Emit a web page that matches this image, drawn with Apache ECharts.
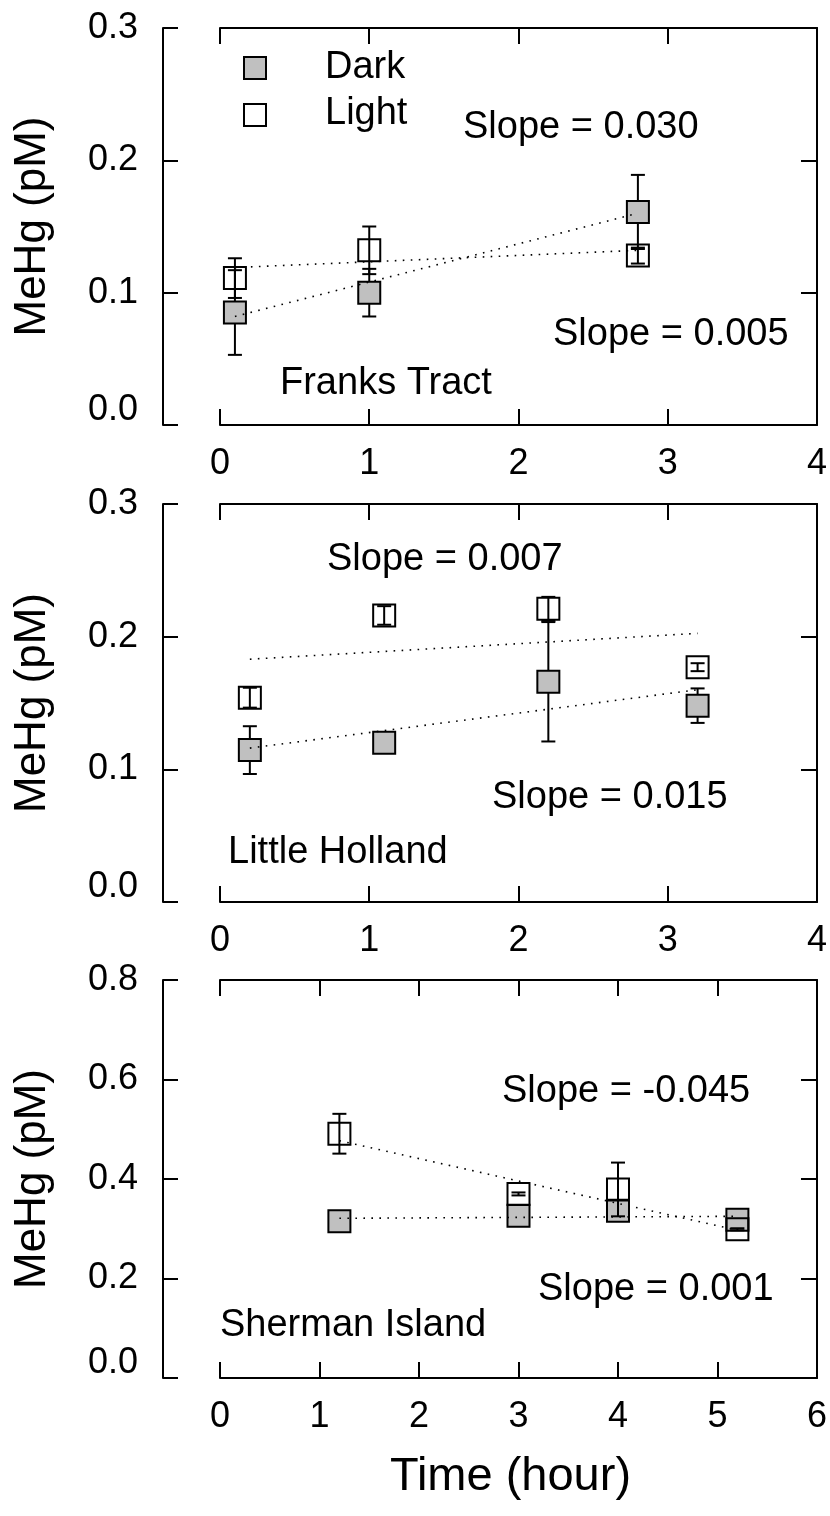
<!DOCTYPE html>
<html>
<head>
<meta charset="utf-8">
<script src="https://cdn.jsdelivr.net/npm/echarts@6/dist/echarts.min.js"></script>
<style>
	html, body { margin: 0; padding: 0; background: #fff; }
	#chart { width: 830px; height: 1516px; }
</style>
</head>
<body>
<div id="chart"></div>
<script>
// Franks Tract
var ftTime = [0.1, 1.0, 2.8];
var ftDark = [0.085, 0.100, 0.161];
var ftDarkErr = [0.032, 0.018, 0.028];
var ftLight = [0.111, 0.132, 0.128];
var ftLightErr = [0.015, 0.018, 0.006];
var ftDarkFit = [[0.1, 0.082], [2.8, 0.160]];
var ftLightFit = [[0.1, 0.119], [2.8, 0.132]];

// Little Holland
var lhTime = [0.2, 1.1, 2.2, 3.2];
var lhDark = [0.1145, 0.120, 0.166, 0.148];
var lhDarkErr = [0.018, 0.005, 0.045, 0.013];
var lhLight = [0.154, 0.216, 0.221, 0.177];
var lhLightErr = [0.0075, 0.007, 0.009, 0.003];
var lhDarkFit = [[0.2, 0.116], [3.2, 0.160]];
var lhLightFit = [[0.2, 0.183], [3.2, 0.2025]];

// Sherman Island
var siTime = [1.2, 3.0, 4.0, 5.2];
var siDark = [0.315, 0.326, 0.336, 0.318];
var siDarkErr = [0.008, 0.008, 0.01, 0.008];
var siLight = [0.491, 0.370, 0.379, 0.299];
var siLightErr = [0.04, 0.003, 0.054, 0.002];
var siDarkFit = [[1.2, 0.321], [5.2, 0.325]];
var siLightFit = [[1.2, 0.477], [5.2, 0.297]];

var FONT = 'Liberation Sans, Arial, sans-serif';

var chart = echarts.init(document.getElementById('chart'));

function zip(xs, ys, es) {
	var out = [];
	for (var i = 0; i < xs.length; i++) {
		out.push(es ? [xs[i], ys[i], es[i]] : [xs[i], ys[i]]);
	}
	return out;
}

// vertical error bar with caps
function renderErr(params, api) {
	var x = api.value(0), y = api.value(1), e = api.value(2);
	var hi = api.coord([x, y + e]);
	var lo = api.coord([x, y - e]);
	var w = 7;
	var st = { stroke: '#000', lineWidth: 2 };
	return {
		type: 'group',
		children: [
			{ type: 'line', shape: { x1: hi[0], y1: hi[1], x2: lo[0], y2: lo[1] }, style: st },
			{ type: 'line', shape: { x1: hi[0] - w, y1: hi[1], x2: hi[0] + w, y2: hi[1] }, style: st },
			{ type: 'line', shape: { x1: lo[0] - w, y1: lo[1], x2: lo[0] + w, y2: lo[1] }, style: st }
		]
	};
}

var grids = [], xAxes = [], yAxes = [], series = [];

function addPanel(i, p) {
	grids.push({ left: 220, right: 12, top: p.top, height: p.height });

	var xBase = {
		gridIndex: i, type: 'value', min: 0, max: p.xMax, interval: 1,
		axisLine: { show: true, onZero: false, lineStyle: { color: '#000', width: 2 } },
		axisTick: { show: true, inside: true, length: 16, lineStyle: { color: '#000', width: 2 } },
		splitLine: { show: false }
	};
	var xBottom = Object.assign({}, xBase, {
		position: 'bottom',
		axisLabel: { show: true, margin: 21, color: '#000', fontSize: 36, fontFamily: FONT, showMinLabel: true, showMaxLabel: true }
	});
	if (p.xName) {
		xBottom.name = p.xName;
		xBottom.nameLocation = 'middle';
		xBottom.nameGap = 76;
		xBottom.nameTextStyle = { color: '#000', fontSize: 47, fontFamily: FONT, padding: [0, 16, 0, 0] };
	}
	xAxes.push(xBottom);
	xAxes.push(Object.assign({}, xBase, { position: 'top', axisLabel: { show: false } }));

	// detached left axis carrying the labels
	yAxes.push({
		gridIndex: i, type: 'value', position: 'left', offset: 57,
		min: 0, max: p.yMax, interval: p.yInt,
		axisLine: { show: true, onZero: false, lineStyle: { color: '#000', width: 2 } },
		axisTick: { show: true, inside: true, length: 15, lineStyle: { color: '#000', width: 2 } },
		splitLine: { show: false },
		axisLabel: {
			margin: 25, color: '#000', fontSize: 36, fontFamily: FONT,
			showMinLabel: true, showMaxLabel: true,
			formatter: function(v) {
				var s = v.toFixed(1);
				return v === 0 ? '{low|' + s + '}' : s;
			},
			rich: {
				low: { fontSize: 36, fontFamily: FONT, color: '#000', padding: [0, 0, 30, 0] }
			}
		},
		name: 'MeHg (pM)',
		nameLocation: 'middle',
		nameGap: 108,
		nameTextStyle: { color: '#000', fontSize: 44, fontFamily: FONT }
	});
	yAxes.push({
		gridIndex: i, type: 'value', position: 'right',
		min: 0, max: p.yMax, interval: p.yInt,
		axisLine: { show: true, onZero: false, lineStyle: { color: '#000', width: 2 } },
		axisTick: { show: true, inside: true, length: 16, lineStyle: { color: '#000', width: 2 } },
		splitLine: { show: false },
		axisLabel: { show: false }
	});

	var xi = i * 2, yi = i * 2;
	series.push({
		type: 'custom', name: 'Dark error', xAxisIndex: xi, yAxisIndex: yi, z: 1,
		renderItem: renderErr, encode: { x: 0, y: 1 },
		data: zip(p.time, p.dark, p.darkErr)
	});
	series.push({
		type: 'scatter', name: 'Dark', xAxisIndex: xi, yAxisIndex: yi, z: 2,
		symbol: 'rect', symbolSize: 22,
		itemStyle: { color: '#c0c0c0', borderColor: '#000', borderWidth: 2, opacity: 1 },
		data: zip(p.time, p.dark)
	});
	series.push({
		type: 'scatter', name: 'Light', xAxisIndex: xi, yAxisIndex: yi, z: 3,
		symbol: 'rect', symbolSize: 22,
		itemStyle: { color: 'rgba(255,255,255,0)', borderColor: '#000', borderWidth: 2, opacity: 1 },
		data: zip(p.time, p.light)
	});
	series.push({
		type: 'custom', name: 'Light error', xAxisIndex: xi, yAxisIndex: yi, z: 4,
		renderItem: renderErr, encode: { x: 0, y: 1 },
		data: zip(p.time, p.light, p.lightErr)
	});
	[p.darkFit, p.lightFit].forEach(function(fit) {
		series.push({
			type: 'line', xAxisIndex: xi, yAxisIndex: yi, z: 5,
			symbol: 'none', silent: true,
			lineStyle: { color: '#000', width: 1.6, type: [1.6, 6.4] },
			data: fit
		});
	});
}

addPanel(0, { top: 28, height: 397, xMax: 4, yMax: 0.3, yInt: 0.1,
	time: ftTime, dark: ftDark, darkErr: ftDarkErr, light: ftLight, lightErr: ftLightErr,
	darkFit: ftDarkFit, lightFit: ftLightFit });
addPanel(1, { top: 504, height: 398, xMax: 4, yMax: 0.3, yInt: 0.1,
	time: lhTime, dark: lhDark, darkErr: lhDarkErr, light: lhLight, lightErr: lhLightErr,
	darkFit: lhDarkFit, lightFit: lhLightFit });
addPanel(2, { top: 980, height: 398, xMax: 6, yMax: 0.8, yInt: 0.2, xName: 'Time (hour)',
	time: siTime, dark: siDark, darkErr: siDarkErr, light: siLight, lightErr: siLightErr,
	darkFit: siDarkFit, lightFit: siLightFit });

function label(text, x, y) {
	return {
		type: 'text', x: x, y: y, z: 10,
		style: { text: text, fill: '#000', fontSize: 38, fontFamily: FONT, align: 'left', verticalAlign: 'middle' }
	};
}

var graphics = [
	// legend
	{ type: 'rect', shape: { x: 244, y: 57, width: 22, height: 22 }, style: { fill: '#c0c0c0', stroke: '#000', lineWidth: 2 }, z: 10 },
	{ type: 'rect', shape: { x: 244, y: 104, width: 22, height: 22 }, style: { fill: '#fff', stroke: '#000', lineWidth: 2 }, z: 10 },
	label('Dark', 325, 68),
	label('Light', 325, 114),
	label('Slope = 0.030', 463, 128),
	label('Slope = 0.005', 553, 335),
	label('Franks Tract', 280, 384),
	label('Slope = 0.007', 327, 560),
	label('Slope = 0.015', 492, 798),
	label('Little Holland', 228, 853),
	label('Slope = -0.045', 502, 1092),
	label('Slope = 0.001', 538, 1290),
	label('Sherman Island', 220, 1326)
];

chart.setOption({
	animation: false,
	backgroundColor: '#fff',
	grid: grids,
	xAxis: xAxes,
	yAxis: yAxes,
	series: series,
	graphic: graphics
});
</script>
</body>
</html>
